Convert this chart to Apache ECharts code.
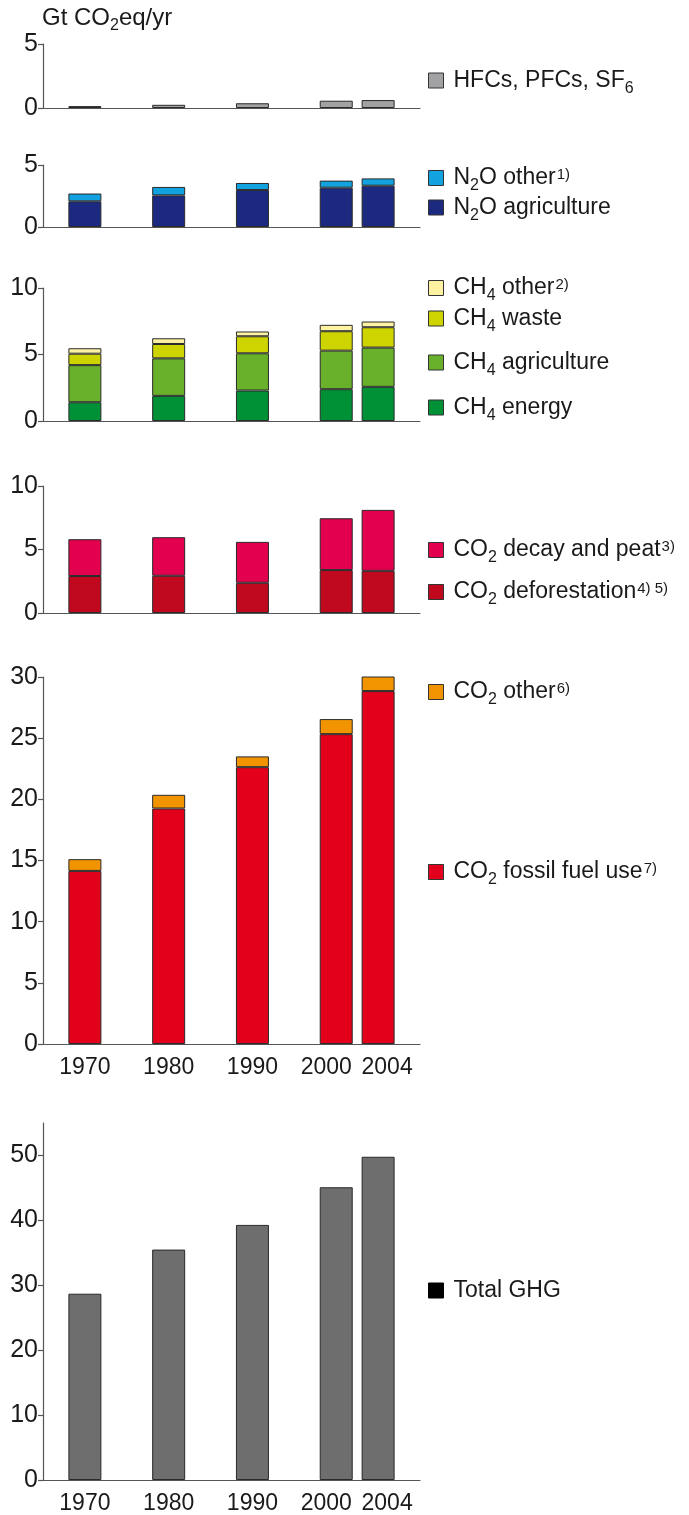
<!DOCTYPE html>
<html><head><meta charset="utf-8">
<script src="https://cdn.jsdelivr.net/npm/echarts@6/dist/echarts.min.js"></script>
<style>html,body{margin:0;padding:0;background:#fff}#c{width:689px;height:1515px}</style>
</head><body><div id="c"></div>
<script>
// ---- data ----
const years = ['1970', '1980', '1990', '2000', '2004'];
const slots = ['', '1970', '', '1980', '', '1990', '', '2000', '2004', ''];
const hfc       = [0.15, 0.25, 0.37, 0.57, 0.62];
const n2oAgri   = [2.07, 2.55, 2.98, 3.17, 3.33];
const n2oOther  = [0.63, 0.68, 0.57, 0.57, 0.59];
const ch4Energy = [1.41, 1.89, 2.29, 2.39, 2.57];
const ch4Agri   = [2.79, 2.82, 2.80, 2.90, 2.95];
const ch4Waste  = [0.86, 1.08, 1.28, 1.46, 1.53];
const ch4Other  = [0.41, 0.43, 0.36, 0.48, 0.43];
const co2Defor  = [2.91, 2.93, 2.38, 3.38, 3.32];
const co2Decay  = [2.90, 3.04, 3.22, 4.08, 4.80];
const co2Fossil = [14.15, 19.25, 22.63, 25.33, 28.85];
const co2Other  = [0.96, 1.12, 0.88, 1.23, 1.42];
const totalGHG  = [28.7, 35.5, 39.3, 45.1, 49.8];
const totalTicks = [0, 10, 20, 30, 40, 50];

// legend labels (rich text)
const labelMap = {
  'HFCs, PFCs, SF6': '{t0|HFCs, PFCs, SF}{sub|6}',
  'N2O other': '{t0|N}{sub|2}{t|O other}{sup|1)}',
  'N2O agriculture': '{t0|N}{sub|2}{t|O agriculture}',
  'CH4 other': '{t0|CH}{sub|4}{t| other}{sup|2)}',
  'CH4 waste': '{t0|CH}{sub|4}{t| waste}',
  'CH4 agriculture': '{t0|CH}{sub|4}{t| agriculture}',
  'CH4 energy': '{t0|CH}{sub|4}{t| energy}',
  'CO2 decay and peat': '{t0|CO}{sub|2}{t| decay and peat}{sup|3)}',
  'CO2 deforestation': '{t0|CO}{sub|2}{t| deforestation}{sup|4) 5)}',
  'CO2 other': '{t0|CO}{sub|2}{t| other}{sup|6)}',
  'CO2 fossil fuel use': '{t0|CO}{sub|2}{t| fossil fuel use}{sup|7)}',
  'Total GHG': '{t0|Total GHG}'
};

const FONT = 'Liberation Sans, Arial, sans-serif';
const TXT = '#1a1a1a';
const rich = {
  t:   {fontSize: 23, fontFamily: FONT, fontWeight: 'normal', color: TXT, lineHeight: 32, verticalAlign: 'middle'},
  t0:  {fontSize: 23, fontFamily: FONT, fontWeight: 'normal', color: TXT, lineHeight: 32, verticalAlign: 'middle', padding: [0, 0, 0, 5]},
  tt:  {fontSize: 24, fontFamily: FONT, fontWeight: 'normal', color: TXT, lineHeight: 32, verticalAlign: 'middle'},
  sub: {fontSize: 16, fontFamily: FONT, fontWeight: 'normal', color: TXT, lineHeight: 16, verticalAlign: 'bottom'},
  sup: {fontSize: 15, fontFamily: FONT, fontWeight: 'normal', color: TXT, lineHeight: 15, verticalAlign: 'top', padding: [5, 0, 0, 1]},
  l:   {fontSize: 23, fontFamily: FONT, color: TXT, padding: [0, 20, 0, 0]},
  r:   {fontSize: 23, fontFamily: FONT, color: TXT, padding: [0, 0, 0, 18]}
};

const toSlots = arr => slots.map(s => { const i = years.indexOf(s); return i < 0 ? null : arr[i]; });

// ---- layout ----
const panels = [
  {top: 44,   bottom: 108,  max: 5,  interval: 5, labels: false},
  {top: 165,  bottom: 227,  max: 5,  interval: 5, labels: false},
  {top: 288,  bottom: 421,  max: 10, interval: 5, labels: false},
  {top: 486,  bottom: 613,  max: 10, interval: 5, labels: false},
  {top: 677,  bottom: 1044, max: 30, interval: 5, labels: true},
  {top: 1123, bottom: 1480, max: 55, interval: 10, labels: true, custom: totalTicks}
];
const AX = '#555';
const grid = panels.map(p => ({left: 43, right: 269, top: p.top, height: p.bottom - p.top}));
const xAxis = panels.map((p, i) => ({
  type: 'category', gridIndex: i, data: slots, boundaryGap: false,
  axisLine: {lineStyle: {color: AX, width: 1.2}},
  axisTick: {show: false},
  axisLabel: {
    show: p.labels, margin: 12, interval: 0, fontSize: 23, fontFamily: FONT, color: TXT,
    formatter: v => v === '2000' ? '{l|2000}' : v === '2004' ? '{r|2004}' : v,
    rich: rich
  },
  splitLine: {show: false}
}));
const yAxis = panels.map((p, i) => {
  const y = {
    type: 'value', gridIndex: i, min: 0, max: p.max, interval: p.interval,
    axisLine: {show: true, lineStyle: {color: AX, width: 1.2}},
    axisTick: {show: true, length: 5, lineStyle: {color: AX, width: 1.2}},
    axisLabel: {margin: 5, fontSize: 25, fontFamily: FONT, color: TXT},
    splitLine: {show: false}
  };
  if (p.custom) {
    y.axisLabel.customValues = p.custom;
    y.axisTick.customValues = p.custom;
  }
  return y;
});

const BORDER = '#2a2a2a';
function bar(name, data, color, idx, stack) {
  return {
    name, type: 'bar', xAxisIndex: idx, yAxisIndex: idx, stack: stack,
    data: toSlots(data), barWidth: 33,
    itemStyle: {color, borderColor: BORDER, borderWidth: 1}
  };
}
const series = [
  bar('HFCs, PFCs, SF6', hfc, '#a2a2a4', 0, 'p1'),
  bar('N2O agriculture', n2oAgri, '#1b2a80', 1, 'p2'),
  bar('N2O other', n2oOther, '#12a2df', 1, 'p2'),
  bar('CH4 energy', ch4Energy, '#009036', 2, 'p3'),
  bar('CH4 agriculture', ch4Agri, '#69b12a', 2, 'p3'),
  bar('CH4 waste', ch4Waste, '#cdd400', 2, 'p3'),
  bar('CH4 other', ch4Other, '#fdf2a2', 2, 'p3'),
  bar('CO2 deforestation', co2Defor, '#c0081f', 3, 'p4'),
  bar('CO2 decay and peat', co2Decay, '#e2004f', 3, 'p4'),
  bar('CO2 fossil fuel use', co2Fossil, '#e2001a', 4, 'p5'),
  bar('CO2 other', co2Other, '#f29400', 4, 'p5'),
  bar('Total GHG', totalGHG, '#6e6e6e', 5, 'p6')
];

const legendPos = [
  ['HFCs, PFCs, SF6', 85],
  ['N2O other', 178],
  ['N2O agriculture', 212],
  ['CH4 other', 288],
  ['CH4 waste', 323],
  ['CH4 agriculture', 367],
  ['CH4 energy', 412],
  ['CO2 decay and peat', 550],
  ['CO2 deforestation', 592],
  ['CO2 other', 692],
  ['CO2 fossil fuel use', 872],
  ['Total GHG', 1295]
];
const legend = legendPos.map(([name, cy]) => ({
  left: 428, top: cy - 16, padding: 0, selectedMode: false,
  itemWidth: 15, itemHeight: 15, icon: 'rect',
  itemStyle: {borderColor: '#333', borderWidth: 1},
  data: [name === 'Total GHG' ? {name, itemStyle: {color: '#000', borderColor: '#000'}} : name],
  formatter: n => labelMap[n],
  textStyle: {fontSize: 23, fontFamily: FONT, color: TXT, rich: rich}
}));

const chart = echarts.init(document.getElementById('c'), null, {renderer: 'canvas'});
chart.setOption({
  animation: false,
  backgroundColor: '#fff',
  title: {
    text: '{tt|Gt CO}{sub|2}{tt|eq/yr}', left: 42, top: 2, padding: 0,
    textStyle: {fontSize: 24, fontWeight: 'normal', fontFamily: FONT, color: TXT, rich: rich}
  },
  grid, xAxis, yAxis, legend, series
});
</script>
</body></html>
